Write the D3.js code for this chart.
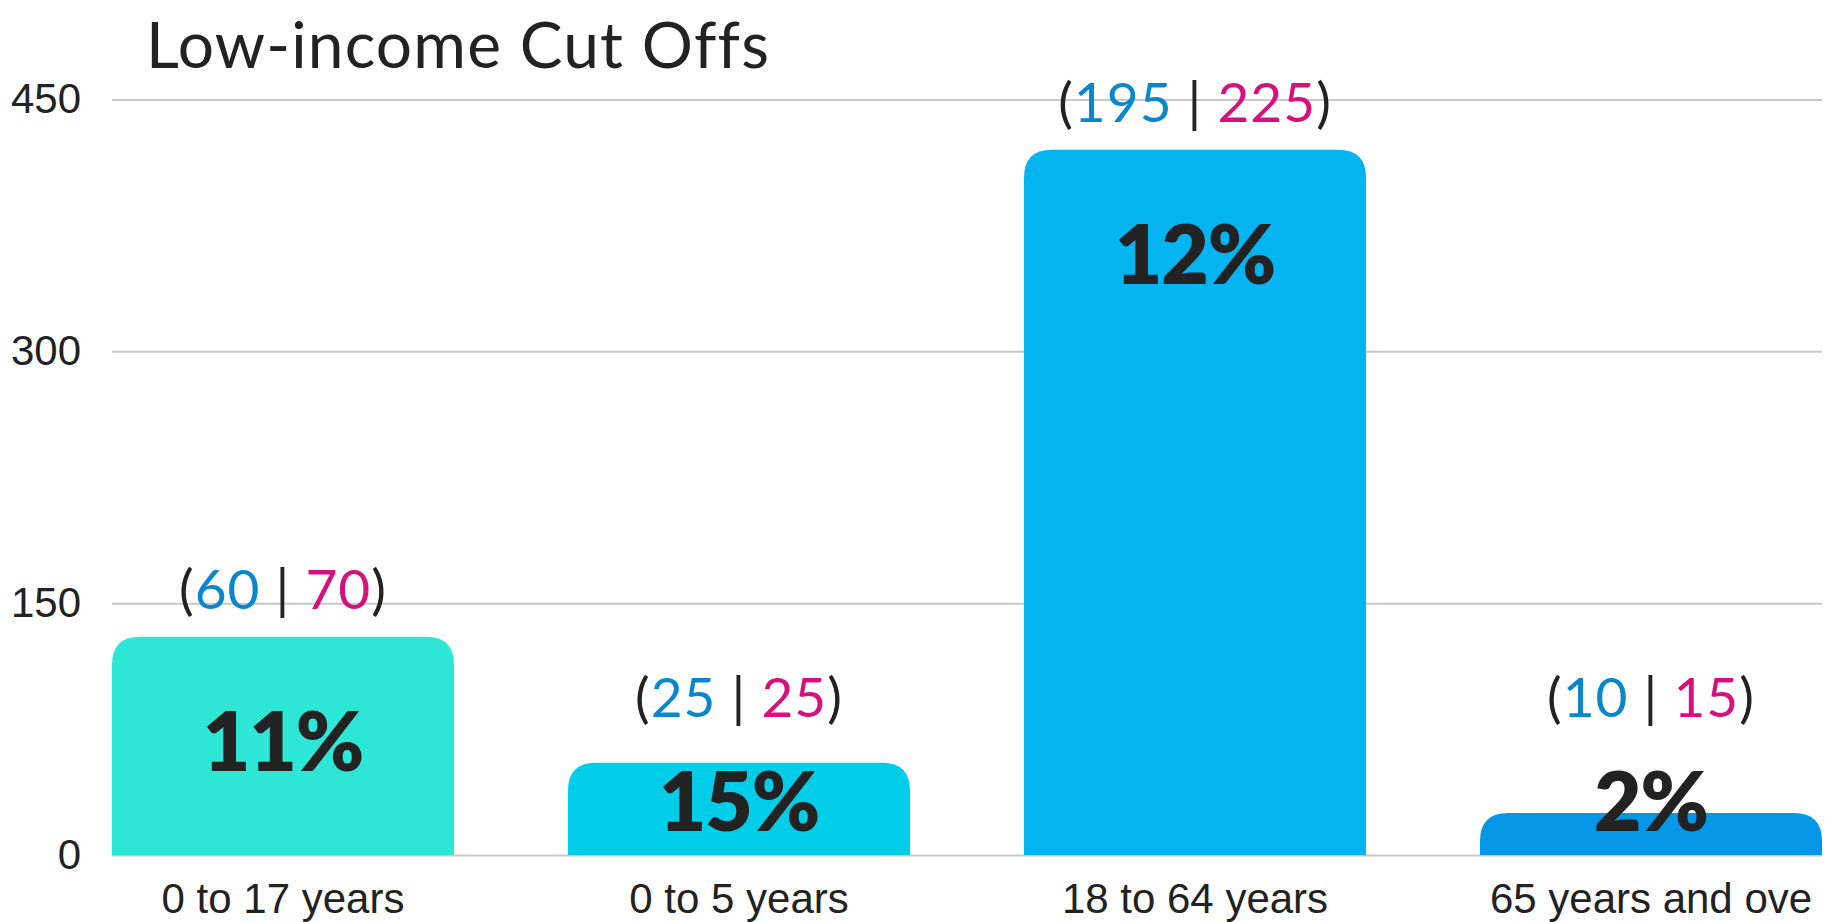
<!DOCTYPE html>
<html>
<head>
<meta charset="utf-8">
<script src="https://cdn.jsdelivr.net/npm/d3@7"></script>
<style>
  body { margin: 0; background: #fff; }
</style>
</head>
<body>
<svg width="1836" height="922"></svg>
<script>
const categories = ['0 to 17 years', '0 to 5 years', '18 to 64 years', '65 years and over']
const totals = [130, 55, 420, 25]
const maleCounts = [60, 25, 195, 10]
const femaleCounts = [70, 25, 225, 15]
const shares = ['11%', '15%', '12%', '2%']
const yTicks = [0, 150, 300, 450]
const barColors = ['#2ee6d6', '#00cde8', '#04b4f1', '#0497e8']

const svg = d3.select('svg')
const plotLeft = 112
const plotRight = 1822
const plotTop = 99.5
const plotBottom = 855

const x = d3.scaleBand().domain(categories).range([plotLeft, plotRight])
  .paddingInner(0.25).paddingOuter(0)
const y = d3.scaleLinear().domain([0, 450]).range([plotBottom, plotTop])

// title
svg.append('text')
  .attr('x', 146).attr('y', 68)
  .attr('font-family', 'Lato').attr('font-size', 64)
  .attr('letter-spacing', 1.2)
  .attr('fill', '#222')
  .text('Low-income Cut Offs')

// y axis with gridlines
const yAxis = svg.append('g')
  .attr('transform', `translate(${plotLeft},0)`)
  .call(d3.axisLeft(y).tickValues(yTicks).tickSize(-(plotRight - plotLeft)).tickPadding(31))
yAxis.select('.domain').remove()
yAxis.selectAll('line').attr('stroke', '#c8c8c8').attr('stroke-width', 2)
yAxis.selectAll('text')
  .attr('font-family', 'Liberation Sans, Arial, sans-serif')
  .attr('font-size', 42).attr('fill', '#222')

// bars with rounded top corners
const r = 28
const barPath = (d, i) => {
  const x0 = x(d), x1 = x(d) + x.bandwidth()
  const y0 = y(totals[i]), y1 = y(0)
  const rr = Math.min(r, y1 - y0)
  return `M${x0},${y1}V${y0 + rr}Q${x0},${y0} ${x0 + rr},${y0}` +
    `H${x1 - rr}Q${x1},${y0} ${x1},${y0 + rr}V${y1}Z`
}
svg.append('g').selectAll('path')
  .data(categories)
  .join('path')
  .attr('d', barPath)
  .attr('fill', (d, i) => barColors[i])

// percentage labels
const labelY = (i) => Math.min(y(totals[i]) + 134, y(0) - 24)
svg.append('g').selectAll('text')
  .data(categories)
  .join('text')
  .attr('x', (d) => x(d) + x.bandwidth() / 2)
  .attr('y', (d, i) => labelY(i))
  .attr('text-anchor', 'middle')
  .attr('font-family', 'Lato').attr('font-weight', 800)
  .attr('font-size', 82).attr('fill', '#222')
  .attr('letter-spacing', -1)
  .text((d, i) => shares[i])

// (male | female) annotations
const noteY = (i) => Math.min(y(totals[i]) - 28, labelY(i) - 114)
const notes = svg.append('g').selectAll('text')
  .data(categories)
  .join('text')
  .attr('x', (d) => x(d) + x.bandwidth() / 2)
  .attr('y', (d, i) => noteY(i))
  .attr('text-anchor', 'middle')
  .attr('font-family', 'Lato')
  .attr('font-size', 55).attr('fill', '#222')
  .attr('letter-spacing', 1)
notes.append('tspan').text('(')
notes.append('tspan').attr('fill', '#0a87cc').text((d, i) => maleCounts[i])
notes.append('tspan').text(' | ')
notes.append('tspan').attr('fill', '#d5117e').text((d, i) => femaleCounts[i])
notes.append('tspan').text(')')

// x axis labels, trimmed to fit the band
const xAxis = svg.append('g')
  .attr('transform', `translate(0,${plotBottom})`)
  .call(d3.axisBottom(x).tickSize(0).tickPadding(0))
xAxis.select('.domain').remove()
xAxis.selectAll('text')
  .attr('y', 58).attr('dy', null)
  .attr('font-family', 'Liberation Sans, Arial, sans-serif')
  .attr('font-size', 42).attr('fill', '#222')
  .each(function () {
    const t = d3.select(this)
    let s = t.text()
    while (this.getComputedTextLength() > x.bandwidth() * 0.97 && s.length > 1) {
      s = s.slice(0, -1)
      t.text(s)
    }
  })
</script>
</body>
</html>
